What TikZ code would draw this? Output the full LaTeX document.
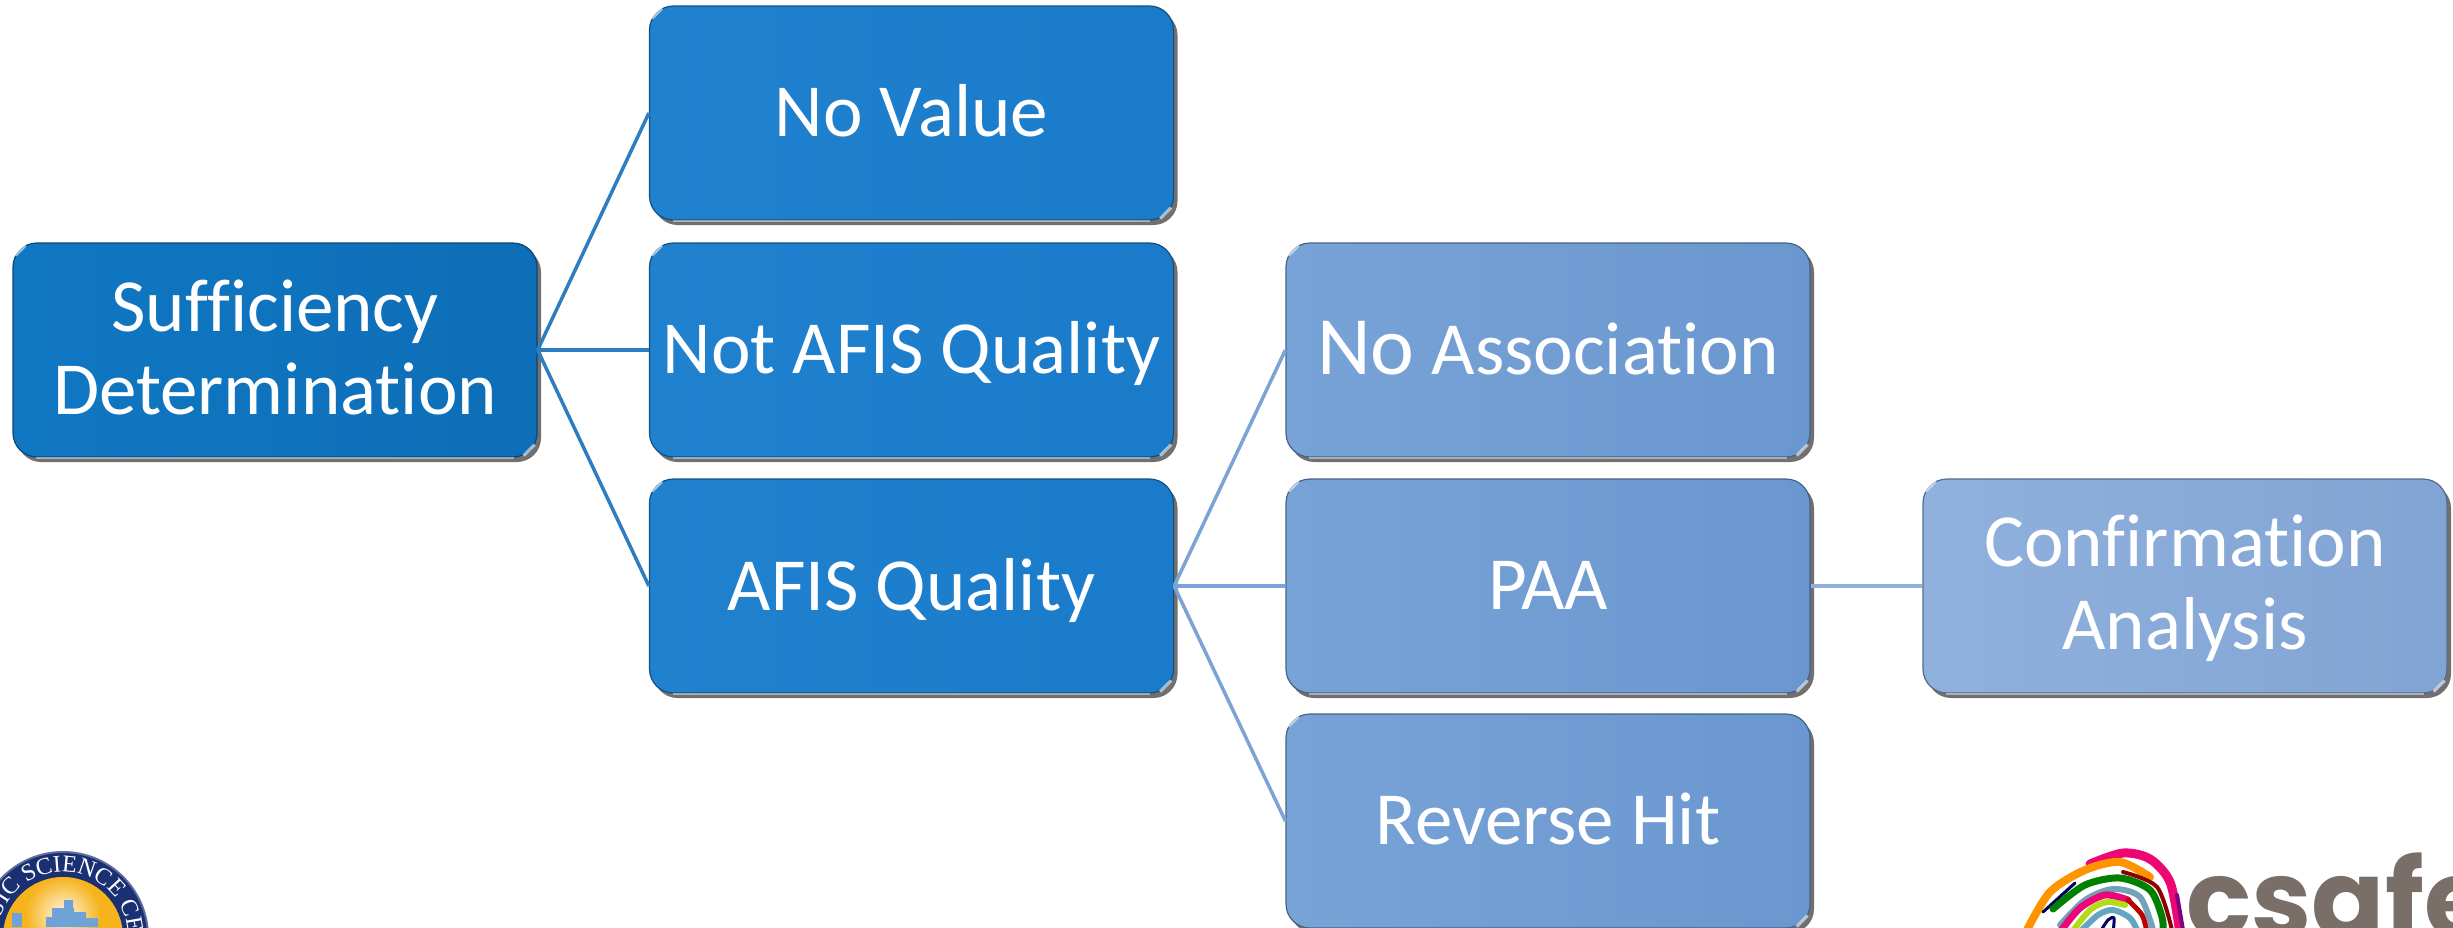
\documentclass[tikz,border=0pt]{standalone}
\usepackage{fontspec}
\setmainfont[Ligatures=NoCommon]{Carlito}
\newfontfamily\logofont{Poppins}
\newfontfamily\sealfont{Liberation Serif}
\usetikzlibrary{shadows,decorations.text}
\definecolor{rootL}{HTML}{1077C2}
\definecolor{rootM}{HTML}{0F72BC}
\definecolor{rootR}{HTML}{0E6EB7}
\definecolor{midL}{HTML}{2081CF}
\definecolor{midM}{HTML}{1980D5}
\definecolor{midR}{HTML}{1A7BCA}
\definecolor{leafL}{HTML}{78A3D7}
\definecolor{leafM}{HTML}{6E9DD5}
\definecolor{leafR}{HTML}{6A97CF}
\definecolor{lastL}{HTML}{90B1DD}
\definecolor{lastM}{HTML}{88AAD9}
\definecolor{lastR}{HTML}{82A4D4}
\definecolor{lineA}{HTML}{2E7DC0}
\definecolor{lineB}{HTML}{7BA3D6}
\definecolor{lineC}{HTML}{8FB0DC}
\definecolor{sealBlue}{HTML}{1B2F73}
\definecolor{sealGold}{HTML}{F6B31C}
\definecolor{towerBlue}{HTML}{6FA3D8}
\definecolor{logoGrey}{HTML}{7A6E68}
\tikzset{
  card/.style={rectangle,rounded corners=24pt,minimum width=524pt,minimum height=214pt,
    inner sep=0pt,draw=#1!65!black,line width=1.2pt,text=white,align=center,
    font=\fontsize{75}{83}\selectfont,
    drop shadow={shadow xshift=4pt,shadow yshift=-5pt,opacity=.8,fill=black!70}},
  rootcard/.style={card=rootR,left color=rootL,middle color=rootM,right color=rootR},
  midcard/.style={card=midR,left color=midL,middle color=midM,right color=midR},
  leafcard/.style={card=leafR,left color=leafL,middle color=leafM,right color=leafR},
  lastcard/.style={card=lastR,left color=lastL,middle color=lastM,right color=lastR},
  link/.style={line width=3.5pt},
  arcline/.style={line width=#1,line join=round,line cap=round},
  glint/.style={line width=2pt,color=white,opacity=.45}
}
\newcommand{\bevel}[1]{%
  \draw[glint] ([xshift=24pt]#1.south west) -- ([xshift=-24pt]#1.south east);
  \draw[glint,line width=3pt,opacity=.6] ([xshift=-14pt,yshift=2pt]#1.south east) -- ([xshift=-3pt,yshift=13pt]#1.south east);
  \draw[glint,line width=3pt,opacity=.6] ([xshift=3pt,yshift=-13pt]#1.north west) -- ([xshift=13pt,yshift=-3pt]#1.north west);
}
\newcommand{\capline}[2]{\rule{0pt}{#1pt}\smash{#2}}
\begin{document}
\begin{tikzpicture}[x=1pt,y=-1pt]
\useasboundingbox (0,0) rectangle (2453,927);
\clip (0,0) rectangle (2453,927);
\node[rootcard] (root) at (275,350) {\capline{45}{Sufficiency}\\\smash{Determination}};
\node[midcard] (nv) at (911.5,113) {\capline{46}{No Value}};
\node[midcard] (na) at (911.5,350) {\capline{46}{Not AFIS Quality}};
\node[midcard] (aq) at (911.5,586) {\capline{48}{AFIS Quality}};
\node[leafcard] (noa) at (1548,350) {\capline{48}{{\fontsize{83}{83}\selectfont No} Association}};
\node[leafcard] (paa) at (1548,586) {\capline{46}{PAA}};
\node[leafcard] (rh) at (1548,821) {\capline{46}{Reverse Hit}};
\node[lastcard] (ca) at (2185,586) {\capline{44}{Confirmation}\\\smash{Analysis}};
\foreach \n in {root,nv,na,aq,noa,paa,rh,ca} {\bevel{\n}}
\draw[link,lineA] (root.east) -- (nv.west);
\draw[link,lineA] (root.east) -- (na.west);
\draw[link,lineA] (root.east) -- (aq.west);
\draw[link,lineB] (aq.east) -- (noa.west);
\draw[link,lineB] (aq.east) -- (paa.west);
\draw[link,lineB] (aq.east) -- (rh.west);
\draw[link,lineC] (paa.east) -- (ca.west);
% seal
\fill[sealBlue!70!white] (63,937) circle (86);
\fill[sealBlue] (63,937) circle (84);
\fill[sealGold] (63,937) circle (60);
\shade[inner color=white!90!sealGold,outer color=sealGold] (63,915) circle (38);
\fill[towerBlue] (12,927) rectangle (22,913);
\fill[towerBlue] (46,927) rectangle (52,917) (52,927) rectangle (62,908) (62,927) rectangle (74,908) (64,908) rectangle (73,900);
\fill[towerBlue] (74,927) rectangle (86,912) (86,927) rectangle (98,918);
\path[postaction={decorate},decoration={text along path,text align=center,
  text={|\sealfont\fontsize{24}{24}\selectfont\color{white}|FORENSIC SCIENCE CENTER}}]
  (-2,937) arc[start angle=180,end angle=360,radius=65];
% csafe mark
\draw[arcline=9pt,color=magenta!75!red] plot[smooth] coordinates {(2090,864) (2123,853) (2150,859) (2170,882) (2179,927)};
\draw[arcline=4pt,color=violet] (2177,895) -- (2183,930);
\draw[arcline=8pt,color=orange!85!yellow] plot[smooth] coordinates {(2027,930) (2050,892) (2085,870) (2120,862) (2150,877)};
\draw[arcline=3pt,color=blue!35!black] (2043,912) -- (2075,883);
\draw[arcline=4pt,color=red!55!black] plot[smooth] coordinates {(2123,872) (2157,887) (2172,930)};
\draw[arcline=7pt,color=green!50!black] plot[smooth] coordinates {(2053,909) (2085,885) (2120,878) (2150,890) (2162,917) (2163,932)};
\draw[arcline=6pt,color=cyan!40!gray] plot[smooth] coordinates {(2060,925) (2085,900) (2113,889) (2140,897) (2153,930)};
\draw[arcline=7pt,color=magenta!80!red] plot[smooth] coordinates {(2060,932) (2080,908) (2105,895) (2128,900)};
\draw[arcline=5pt,color=red!75!black] plot[smooth] coordinates {(2128,900) (2142,915) (2147,932)};
\draw[arcline=6pt,color=yellow!70!green] plot[smooth] coordinates {(2072,932) (2090,910) (2107,902) (2125,905)};
\draw[arcline=6pt,color=cyan!50!gray] plot[smooth] coordinates {(2080,932) (2098,915) (2113,910) (2130,918) (2138,932)};
\draw[arcline=3pt,color=blue!40!black] plot[smooth] coordinates {(2100,932) (2108,920) (2114,918) (2113,932)};
\node[anchor=base west,inner sep=0pt,text=logoGrey,
  font=\logofont\bfseries\fontsize{108}{108}\selectfont] (logo) at (2186,937) {csafe};
\end{tikzpicture}
\end{document}
